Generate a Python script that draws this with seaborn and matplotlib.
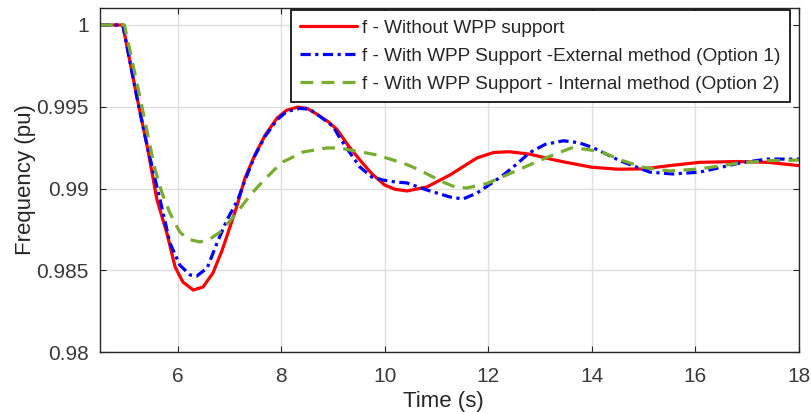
import numpy as np
import pandas as pd
import matplotlib
matplotlib.use("Agg")
import matplotlib.pyplot as plt
import seaborn as sns

# ---- data ----
red_t = [4.5, 4.94, 5.21, 5.41, 5.6, 5.79, 5.95, 6.1, 6.3, 6.49, 6.68, 6.86, 7.01, 7.15,
         7.3, 7.49, 7.69, 7.92, 8.1, 8.32, 8.5, 8.71, 8.9, 9.08, 9.3, 9.52, 9.75, 10.0,
         10.2, 10.43, 10.81, 11.26, 11.78, 12.1, 12.4, 12.8, 13.2, 13.5, 14.0, 14.5,
         15.0, 15.5, 16.08, 16.8, 17.4, 18.0]
red_f = [1.0, 1.0, 0.99563, 0.9926, 0.9893, 0.98728, 0.9852, 0.98428, 0.98379, 0.98398,
         0.98483, 0.98624, 0.98765, 0.98899, 0.99064, 0.99205, 0.99327, 0.99431, 0.99478,
         0.99498, 0.9949, 0.9945, 0.9941, 0.9936, 0.9926, 0.99174, 0.9909, 0.99021,
         0.98995, 0.98985, 0.99009, 0.99083, 0.99187, 0.9922, 0.99225, 0.9921, 0.9918,
         0.9916, 0.9913, 0.99118, 0.9912, 0.9914, 0.9916, 0.99165, 0.9916, 0.9914]

blue_t = [4.5, 4.94, 5.21, 5.41, 5.66, 5.85, 6.04, 6.24, 6.37, 6.57, 6.76, 6.95, 7.16,
          7.3, 7.49, 7.69, 7.92, 8.1, 8.35, 8.55, 8.75, 9.0, 9.13, 9.3, 9.52, 9.75, 9.96,
          10.2, 10.43, 10.81, 11.26, 11.51, 11.78, 12.05, 12.28, 12.55, 12.8, 13.1,
          13.45, 13.75, 14.02, 14.54, 15.12, 15.56, 16.08, 16.5, 16.86, 17.38, 18.0]
blue_f = [1.0, 1.0, 0.9956, 0.9926, 0.9893, 0.98667, 0.98532, 0.98471, 0.98465, 0.98514,
          0.98667, 0.98807, 0.9893, 0.9905, 0.9920, 0.9932, 0.9942, 0.9947, 0.9949,
          0.99485, 0.9944, 0.9938, 0.9931, 0.9923, 0.99131, 0.9907, 0.99052, 0.9904,
          0.99034, 0.98991, 0.98948, 0.98936, 0.98972, 0.9903, 0.9908, 0.9915, 0.9922,
          0.9927, 0.99292, 0.9928, 0.9925, 0.9917, 0.9910, 0.99089, 0.9910, 0.9913,
          0.99156, 0.9918, 0.9918]

green_t = [4.5, 4.97, 5.25, 5.56, 5.7, 5.85, 6.04, 6.2, 6.43, 6.62, 6.82, 7.14, 7.4,
           7.65, 7.85, 8.03, 8.42, 8.88, 9.13, 9.33, 9.6, 9.85, 10.1, 10.35, 10.55,
           10.74, 11.12, 11.35, 11.58, 11.97, 12.55, 13.13, 13.6, 13.9, 14.21, 14.6,
           14.98, 15.5, 16.08, 16.86, 17.4, 18.0]
green_f = [1.0, 1.0, 0.9959, 0.9912, 0.9897, 0.9885, 0.98734, 0.9869, 0.98673, 0.9869,
           0.98734, 0.9885, 0.9896, 0.99045, 0.9911, 0.99162, 0.99223, 0.99248, 0.99248,
           0.99235, 0.9922, 0.99205, 0.9918, 0.99156, 0.9913, 0.99101, 0.9904, 0.9901,
           0.99003, 0.9903, 0.9911, 0.9919, 0.99248, 0.9924, 0.9922, 0.9917, 0.9913,
           0.99107, 0.9912, 0.99156, 0.9917, 0.99174]

labels = ["f - Without WPP support",
          "f - With WPP Support -External method (Option 1)",
          "f - With WPP Support - Internal method (Option 2)"]
x_ticks = [6, 8, 10, 12, 14, 16, 18]
y_ticks = [0.98, 0.985, 0.99, 0.995, 1.0]
y_ticklabels = ["0.98", "0.985", "0.99", "0.995", "1"]

# ---- style ----
sns.set_theme(style="whitegrid")
plt.rcParams["font.family"] = ["Liberation Sans", "DejaVu Sans"]
axc = "#262626"

fig = plt.figure(figsize=(8.12, 4.12), dpi=100)
ax = fig.add_axes([0.1232, 0.1456, 0.8608, 0.835])

series = [
    (red_t, red_f, labels[0], "#FF0000", "-"),
    (blue_t, blue_f, labels[1], "#0000FF", (0, (3.2, 1.4, 1.0, 1.4))),
    (green_t, green_f, labels[2], "#77AC30", (0, (4.0, 2.6))),
]
for t, f, lab, col, ls in series:
    df = pd.DataFrame({"t": t, "f": f})
    sns.lineplot(data=df, x="t", y="f", ax=ax, color=col, linestyle=ls,
                 linewidth=2.3, label=lab, sort=False, estimator=None)

ax.set_xlim(4.5, 18)
ax.set_ylim(0.98, 1.00104)
ax.set_xticks(x_ticks)
ax.set_xticklabels([str(v) for v in x_ticks])
ax.set_yticks(y_ticks)
ax.set_yticklabels(y_ticklabels)
ax.set_facecolor("white")
ax.grid(True, color="#DEDEDE", linewidth=1.0)
for s in ax.spines.values():
    s.set_visible(True)
    s.set_color(axc)
    s.set_linewidth(1.0)
ax.tick_params(direction="in", length=4, width=0.8, colors=axc, labelsize=15,
               top=True, right=True, bottom=True, left=True,
               labelcolor="#3a3a3a")
ax.tick_params(axis="y", pad=8)
ax.tick_params(axis="x", pad=11)
ax.set_xlabel("Time (s)", fontsize=16, color="#262626")
ax.set_ylabel("Frequency (pu)", fontsize=16, color="#262626")
ax.xaxis.set_label_coords(0.491, -0.112)
ax.yaxis.set_label_coords(-0.092, 0.5)

leg = ax.legend(loc="upper right", bbox_to_anchor=(790 / 812, 1 - 10 / 412),
                bbox_transform=fig.transFigure, borderaxespad=0, fontsize=13.7,
                frameon=True, fancybox=False, framealpha=1, edgecolor="black",
                handlelength=3.0, handletextpad=0.26, labelspacing=0.56,
                borderpad=0.5)
leg.get_frame().set_linewidth(1.2)
for txt in leg.get_texts():
    txt.set_color("#262626")

fig.savefig("out.png", dpi=100, facecolor="white")
